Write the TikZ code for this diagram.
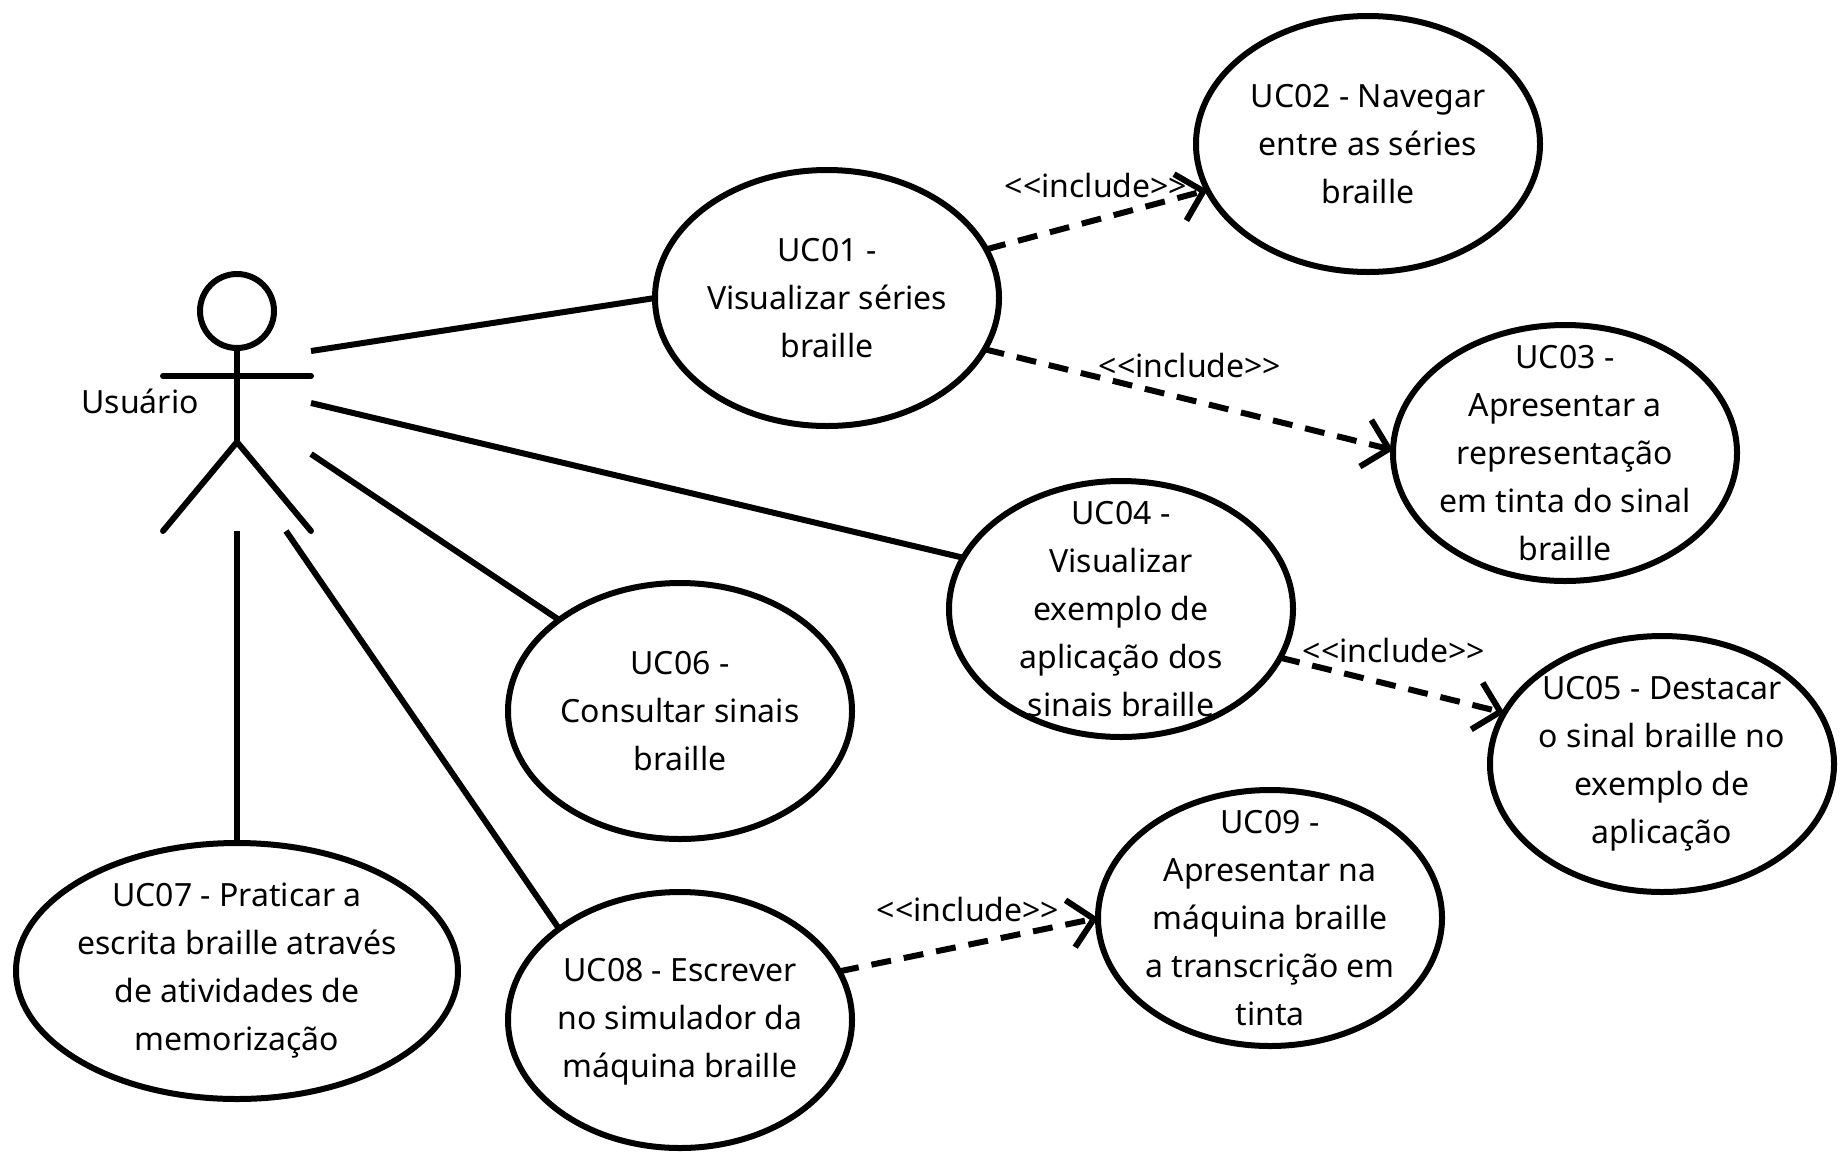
\documentclass[tikz,border=0pt]{standalone}
\usepackage{fontspec}
\setmainfont{Noto Sans}
\usetikzlibrary{shapes.geometric,arrows.meta}
\tikzset{
  ucase/.style={
    ellipse,
    draw,
    line width=3pt,
    minimum width=172pt,
    minimum height=128pt,
    inner sep=0pt,
    outer sep=0pt
  },
  uctext/.style={
    align=center,
    inner sep=0pt,
    font=\fontsize{16}{24}\selectfont
  },
  assoc/.style={
    line width=3pt
  },
  includes/.style={
    line width=3pt,
    dash pattern=on 10pt off 6.5pt,
    -{Straight Barb[length=12pt,width=24pt,line width=3pt]}
  },
  incltext/.style={
    inner sep=0pt,
    font=\fontsize{16}{16}\selectfont
  }
}

\begin{document}
\begin{tikzpicture}[x=0.5pt,y=-0.5pt]
\useasboundingbox (0,0) rectangle (1847,1152);
% actor
\node[circle,draw,line width=3pt,minimum size=37pt,inner sep=0pt,outer sep=0pt] (head) at (237,311) {};
\coordinate (hip) at (237,442);
\coordinate (armleft) at (163,376);
\coordinate (armright) at (311,376);
\coordinate (footleft) at (163,531);
\coordinate (footright) at (311,531);
\draw[assoc] (head.south) -- (hip);
\draw[assoc,line cap=round] (armleft) -- (armright);
\draw[assoc,line cap=round] (footleft) -- (hip) -- (footright);
\node[incltext] (actorname) at (140,401) {Usuário};
% use cases
\node[ucase,label={[uctext]center:UC01 -\\Visualizar séries\\braille}] (uc01) at (827,298) {};
\node[ucase,label={[uctext]center:UC02 - Navegar\\entre as séries\\braille}] (uc02) at (1368,144) {};
\node[ucase,label={[uctext]center:UC03 -\\Apresentar a\\representação\\em tinta do sinal\\braille}] (uc03) at (1565,453) {};
\node[ucase,label={[uctext]center:UC04 -\\Visualizar\\exemplo de\\aplicação dos\\sinais braille}] (uc04) at (1121,609) {};
\node[ucase,label={[uctext]center:UC05 - Destacar\\o sinal braille no\\exemplo de\\aplicação}] (uc05) at (1662,764) {};
\node[ucase,label={[uctext]center:UC06 -\\Consultar sinais\\braille}] (uc06) at (680,711) {};
\node[ucase,minimum width=221pt,label={[uctext]center:UC07 - Praticar a\\escrita braille através\\de atividades de\\memorização}] (uc07) at (237,971) {};
\node[ucase,label={[uctext,yshift=-1pt]center:UC08 - Escrever\\no simulador da\\máquina braille}] (uc08) at (680,1020) {};
\node[ucase,label={[uctext]center:UC09 -\\Apresentar na\\máquina braille\\a transcrição em\\tinta}] (uc09) at (1270,918) {};
% free ends at the actor
\coordinate (toUC01) at (311,351);
\coordinate (toUC04) at (311,403);
\coordinate (toUC06) at (311,454);
\coordinate (toUC07) at (237,531);
\coordinate (toUC08) at (286,531);
\draw[assoc] (toUC01) -- (uc01.west);
\draw[assoc] (toUC04) -- (uc04.162);
\draw[assoc] (toUC06) -- (uc06.143);
\draw[assoc] (toUC07) -- (uc07.north);
\draw[assoc] (toUC08) -- (uc08.143);
% includes
\draw[includes] (uc01.17) -- (uc02.196);
\draw[includes] (uc01.-18) -- (uc03.179);
\draw[includes] (uc04.-17) -- (uc05.162);
\draw[includes] (uc08.17) -- (uc09.180);
\node[incltext] (incl02) at (1096,185) {<{}<include>{}>};
\node[incltext] (incl03) at (1190,365) {<{}<include>{}>};
\node[incltext] (incl05) at (1394,650) {<{}<include>{}>};
\node[incltext] (incl09) at (968,909) {<{}<include>{}>};
\end{tikzpicture}
\end{document}
